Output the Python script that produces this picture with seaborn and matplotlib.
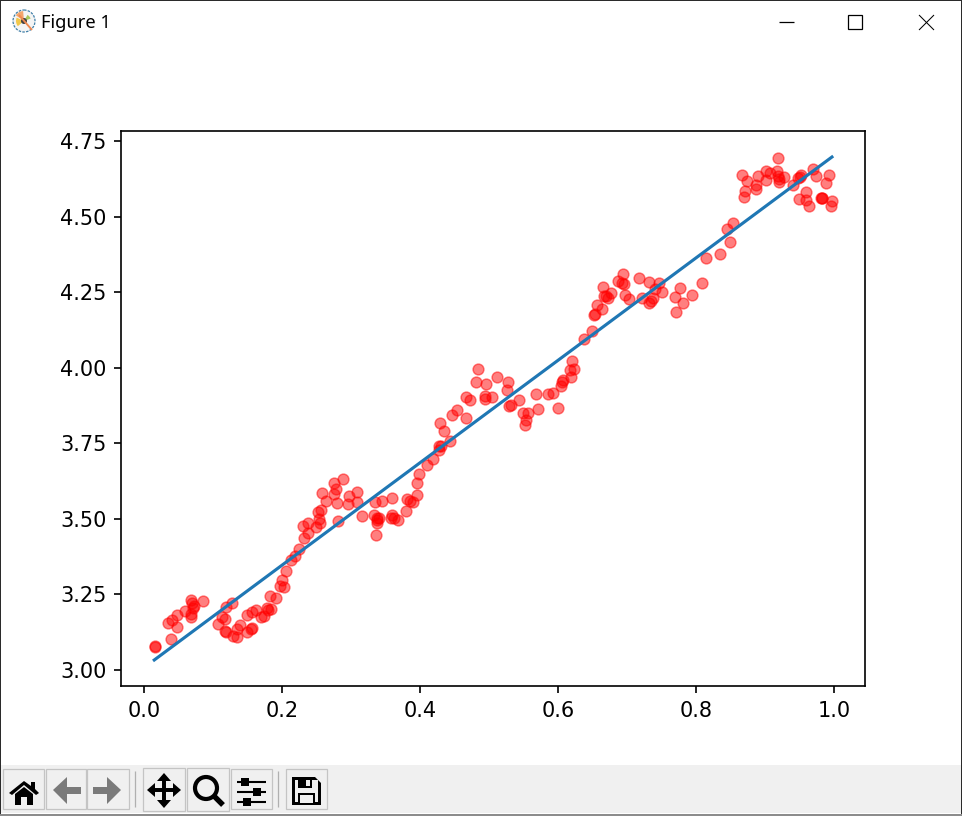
import matplotlib
matplotlib.use('Agg')
import matplotlib.pyplot as plt
import seaborn as sns
from matplotlib.patches import Rectangle, Polygon, Circle, Wedge

# --- data ---
scatter_x = [
    .0164, .0164, .0396, .0348, .0410, .0473, .0483, .0594, .0680, .0696, .0725, .0705, .0676, .0680, .0857,
    .1184, .1270, .1072, .1130, .1174, .1174, .1184, .1285, .1343, .1343, .1396, .1493, .1546, .1570, .1498,
    .1565, .1623, .1696, .1734, .1777, .1802, .1840, .1831, .1918, .1970, .2034, .2005, .2053, .2135, .2193,
    .2251, .2324, .2372, .2309, .2382, .2488, .2556, .2541, .2527, .2570, .2807, .2585, .2643, .2749, .2792,
    .2787, .2758, .2879, .2971, .3092, .2961, .3082, .3164,
    .3348, .3454, .3599, .3333, .3372, .3401, .3377, .3372, .3367, .3594, .3580, .3628, .3676, .3802, .3816,
    .3855, .3894, .3961, .3961, .3990, .4106, .4184, .4280, .4271, .4300, .4430, .4353, .4295, .4469, .4541,
    .4671, .4667, .4720, .4816, .4845, .4961, .4947, .4942, .5048, .5111, .5280, .5266, .5290, .5319, .5430,
    .5517, .5498, .5541, .5570, .5705, .5686, .5850, .5923, .6005, .6048, .6072, .6063, .6184, .6169, .6237,
    .6198,
    .6377, .6497, .6522, .6541, .6643, .6570, .6657, .6667, .6696, .6725, .6763, .6874, .6947, .6923, .6961,
    .6976, .7034, .7179, .7222, .7324, .7314, .7343, .7377, .7469, .7401, .7502, .7715, .7700, .7773, .7816,
    .7937, .8092, .8150, .8343, .8488, .8454, .8541, .8700, .8710, .8671, .8734, .8865, .8874, .8903, .9019,
    .9014, .9077, .9179, .9193, .9193, .9203, .9208, .9275, .9401, .9483, .9507, .9527, .9493, .9589, .9589,
    .9643, .9700, .9734, .9812, .9831, .9821, .9889, .9923, .9966, .9952,
]
scatter_y = [
    3.080, 3.076, 3.101, 3.154, 3.165, 3.141, 3.182, 3.194, 3.232, 3.223, 3.212, 3.204, 3.185, 3.175, 3.227,
    3.208, 3.221, 3.152, 3.176, 3.168, 3.130, 3.127, 3.111, 3.108, 3.136, 3.149, 3.125, 3.137, 3.138, 3.181,
    3.193, 3.200, 3.174, 3.178, 3.206, 3.198, 3.201, 3.246, 3.237, 3.277, 3.274, 3.297, 3.329, 3.364, 3.378,
    3.401, 3.436, 3.452, 3.475, 3.486, 3.474, 3.486, 3.498, 3.522, 3.528, 3.492, 3.584, 3.558, 3.581, 3.551,
    3.599, 3.620, 3.631, 3.577, 3.588, 3.548, 3.555, 3.509,
    3.555, 3.560, 3.568, 3.513, 3.504, 3.502, 3.495, 3.487, 3.446, 3.514, 3.502, 3.504, 3.497, 3.525, 3.565,
    3.560, 3.557, 3.578, 3.620, 3.647, 3.677, 3.699, 3.729, 3.740, 3.742, 3.757, 3.790, 3.816, 3.843, 3.860,
    3.833, 3.903, 3.892, 3.953, 3.995, 3.945, 3.907, 3.897, 3.902, 3.968, 3.952, 3.927, 3.873, 3.877, 3.892,
    3.809, 3.850, 3.827, 3.849, 3.862, 3.912, 3.912, 3.916, 3.866, 3.938, 3.960, 3.954, 3.968, 3.991, 3.995,
    4.021,
    4.094, 4.121, 4.174, 4.177, 4.193, 4.207, 4.267, 4.238, 4.237, 4.230, 4.246, 4.286, 4.309, 4.279, 4.276,
    4.240, 4.227, 4.296, 4.231, 4.282, 4.213, 4.220, 4.232, 4.279, 4.260, 4.251, 4.183, 4.233, 4.263, 4.213,
    4.239, 4.279, 4.362, 4.375, 4.415, 4.458, 4.478, 4.564, 4.586, 4.637, 4.619, 4.592, 4.603, 4.634, 4.622,
    4.650, 4.645, 4.650, 4.693, 4.634, 4.623, 4.613, 4.632, 4.605, 4.629, 4.632, 4.636, 4.557, 4.581, 4.556,
    4.534, 4.656, 4.633, 4.560, 4.560, 4.562, 4.610, 4.637, 4.551, 4.534,
]
line_x = [.0149, .9971]
line_y = [3.033, 4.697]

W, H = 962, 816
fig = plt.figure(figsize=(W / 150, H / 150), dpi=150, facecolor='white')

# --- window frame and toolbar, in pixel coordinates ---
chrome = fig.add_axes([0, 0, 1, 1], zorder=0)
chrome.set_xlim(0, W)
chrome.set_ylim(H, 0)
chrome.axis('off')

def rect(x0, y0, x1, y1, **kw):
    kw.setdefault('linewidth', 0)
    chrome.add_patch(Rectangle((x0, y0), x1 - x0, y1 - y0, **kw))

def seg(xs, ys, color='black', lw=1.0):
    chrome.plot(xs, ys, color=color, lw=lw, solid_capstyle='butt')

def poly(pts, color='black', **kw):
    chrome.add_patch(Polygon(pts, closed=True, facecolor=color, edgecolor='none', **kw))

# frame
rect(0, 0, W, 1, facecolor='#2b2b2b')
rect(0, 0, 1, H, facecolor='#2b2b2b')
rect(W - 1, 0, W, H, facecolor='#2b2b2b')

# title bar
chrome.text(41, 22.5, 'Figure 1', fontsize=8.8, family='Noto Sans', va='center', ha='left', color='black')
chrome.add_patch(Circle((24, 21), 11, facecolor='#f4f4f4', edgecolor='#3f7fa8', lw=0.6, linestyle=(0, (2, 1))))
chrome.add_patch(Wedge((24, 21), 10, 215, 265, facecolor='#f3a66d', linewidth=0))
chrome.add_patch(Wedge((24, 21), 8, 140, 205, facecolor='#f1c84b', linewidth=0))
chrome.add_patch(Wedge((24, 21), 7, 300, 340, facecolor='#a8c85a', linewidth=0))
seg([19, 32], [15, 30], color='#f0894f', lw=0.9)
chrome.add_patch(Circle((24, 21), 3, facecolor='#444444', linewidth=0))
seg([779, 794], [22, 22], lw=0.6)
rect(848, 15.5, 862, 29.5, facecolor='none', edgecolor='black', linewidth=0.6)
seg([919, 934], [15, 30], lw=0.5)
seg([919, 934], [30, 15], lw=0.5)

# toolbar band
rect(1, 765, W - 1, 813, facecolor='#f0f0f0')
rect(0, 814, W, 816, facecolor='#8c8c8c')
for x0, x1, y0, y1 in [(3, 44, 769, 809), (46, 86, 769, 809), (87, 129, 769, 809),
                       (143, 185, 768, 811), (187, 229, 768, 811), (231, 272, 769, 809),
                       (286, 327, 769, 809)]:
    rect(x0, y0, x1, y1, facecolor='#f0f0f0', edgecolor='#c4c4c4', linewidth=0.6)
seg([135, 135], [771, 807], color='#b0b0b0', lw=0.6)
seg([278, 278], [771, 807], color='#b0b0b0', lw=0.6)

# home
poly([(9, 793), (24, 781), (31, 786), (31, 782), (35, 782), (35, 789), (39, 793), (36, 795), (24, 785), (12, 795)])
poly([(15, 794), (24, 787), (33, 794), (33, 805), (27, 805), (27, 797), (21, 797), (21, 805), (15, 805)])

# back and forward
poly([(53, 790), (67, 777), (67, 787), (81, 787), (81, 794), (67, 794), (67, 804)], color='#7a7a7a')
poly([(121, 790), (107, 777), (107, 787), (93, 787), (93, 794), (107, 794), (107, 804)], color='#7a7a7a')

# move
seg([150, 178], [790, 790], lw=1.9)
seg([164, 164], [776, 804], lw=1.9)
poly([(147, 790), (155, 783), (155, 797)])
poly([(181, 790), (173, 783), (173, 797)])
poly([(164, 773), (157, 781), (171, 781)])
poly([(164, 808), (157, 800), (171, 800)])

# zoom
chrome.add_patch(Circle((206, 788), 11, facecolor='none', edgecolor='black', lw=2.0))
seg([214, 223], [796, 805], lw=2.6)

# sliders
for y, x in [(782, 245), (792, 257), (802, 247)]:
    seg([237, 266], [y, y], lw=1.0)
    rect(x - 4, y - 4, x + 4, y + 4, facecolor='black')

# save
poly([(292, 777), (315, 777), (321, 783), (321, 805), (292, 805)])
rect(295, 780, 318, 802, facecolor='#f0f0f0')
rect(298, 778, 312, 788, facecolor='black')
rect(306, 780, 310, 786, facecolor='#f0f0f0')
rect(298, 793, 315, 802, facecolor='black')
rect(300, 795, 313, 803, facecolor='#f0f0f0')

# --- the chart ---
ax = fig.add_axes([121 / W, 1 - 686 / H, (865 - 121) / W, (686 - 131) / H], zorder=1)
sns.scatterplot(x=scatter_x, y=scatter_y, color='red', alpha=0.5, s=27, edgecolor='red', linewidth=0.7, ax=ax)
sns.lineplot(x=line_x, y=line_y, color='#1f77b4', linewidth=1.5, errorbar=None, ax=ax)
ax.set_yticks([3.0, 3.25, 3.5, 3.75, 4.0, 4.25, 4.5, 4.75])
ax.set_yticklabels(['3.00', '3.25', '3.50', '3.75', '4.00', '4.25', '4.50', '4.75'])
ax.set_xticks([0.0, 0.2, 0.4, 0.6, 0.8, 1.0])
ax.set_xlim(-0.0333, 1.045)
ax.set_ylim(2.947, 4.783)

fig.savefig('out.png', dpi=150)
